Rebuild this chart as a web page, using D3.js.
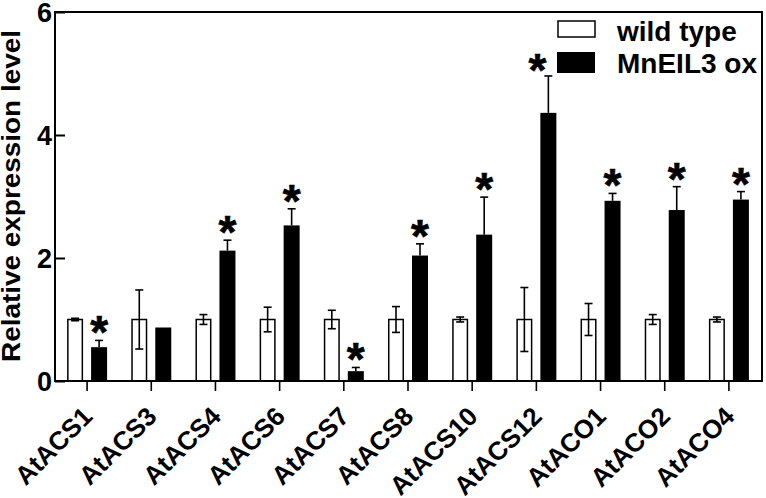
<!DOCTYPE html>
<html><head><meta charset="utf-8">
<script src="https://cdn.jsdelivr.net/npm/d3@7"></script>
<style>html,body{margin:0;padding:0;background:#fff;}svg{display:block;font-family:"Liberation Sans",Arial,Helvetica,sans-serif;font-weight:bold;}</style>
</head><body>
<svg id="chart" width="766" height="498"></svg>
<script>
const categories = ["AtACS1","AtACS3","AtACS4","AtACS6","AtACS7","AtACS8","AtACS10","AtACS12","AtACO1","AtACO2","AtACO4"];
const series = ["wild type","MnEIL3 ox"];
const wildType = [1.0,1.0,1.0,1.0,1.0,1.0,1.0,1.0,1.0,1.0,1.0];
const wildTypeErr = [0.02,0.48,0.08,0.20,0.15,0.21,0.04,0.52,0.26,0.08,0.04];
const overexp = [0.55,0.87,2.12,2.53,0.16,2.04,2.38,4.36,2.93,2.78,2.95];
const overexpErr = [0.11,0,0.17,0.27,0.06,0.19,0.61,0.60,0.12,0.38,0.13];
const significant = [true,false,true,true,true,true,true,true,true,true,true];
const yTicks = [0,2,4,6];

(function () {
const svg = d3.select("#chart");
const mLeft = 55, mRight = 762, mTop = 12, mBottom = 381;

const x = d3.scaleBand().domain(categories).range([mLeft, 761]).padding(0);
const xs = d3.scaleBand().domain(series).range([-20, 20]).paddingInner(1/3);
const y = d3.scaleLinear().domain([0, 6]).range([mBottom, mTop]);

const data = categories.map((c, i) => ({
  cat: c,
  vals: [
    {s: series[0], v: wildType[i], e: wildTypeErr[i]},
    {s: series[1], v: overexp[i], e: overexpErr[i]}
  ],
  sig: significant[i]
}));

const g = svg.append("g");
function cap(mid, yy) {
  g.append("line").attr("x1", mid - 4).attr("x2", mid + 4).attr("y1", yy).attr("y2", yy)
    .attr("stroke", "#000").attr("stroke-width", 1.6);
}
function vline(mid, y1, y2) {
  g.append("line").attr("x1", mid).attr("x2", mid).attr("y1", y1).attr("y2", y2)
    .attr("stroke", "#000").attr("stroke-width", 1.6);
}
data.forEach(d => {
  const cx = x(d.cat) + x.bandwidth() / 2;
  d.vals.forEach((b, j) => {
    const bx = cx + xs(b.s);
    const bw = xs.bandwidth();
    const mid = bx + bw / 2;
    if (j === 1 && b.e > 0) {
      vline(mid, y(b.v + b.e), y(b.v));
      cap(mid, y(b.v + b.e));
    }
    g.append("rect").attr("x", bx + (j === 0 ? 0.75 : 0)).attr("y", y(b.v))
      .attr("width", bw - (j === 0 ? 1.5 : 0)).attr("height", y(0) - y(b.v))
      .attr("fill", j === 0 ? "#fff" : "#000")
      .attr("stroke", "#000").attr("stroke-width", j === 0 ? 1.5 : 0);
    if (j === 0 && b.e > 0) {
      vline(mid, y(b.v + b.e), y(b.v - b.e));
      cap(mid, y(b.v + b.e));
      cap(mid, y(b.v - b.e));
    }
  });
  if (d.sig) {
    const b = d.vals[1];
    let ax = cx + xs(b.s) + xs.bandwidth() / 2;
    let ay = y(b.v + b.e) + 8;
    if (d.cat === "AtACS12") { ax -= 11; ay += 2; }
    g.append("text").attr("x", ax).attr("y", ay).attr("text-anchor", "middle")
      .attr("font-size", 46).attr("stroke", "#000").attr("stroke-width", 0.6).text("*");
  }
});

svg.append("rect").attr("x", mLeft).attr("y", mTop).attr("width", mRight - mLeft).attr("height", mBottom - mTop)
  .attr("fill", "none").attr("stroke", "#000").attr("stroke-width", 2);

const yAxis = svg.append("g").attr("transform", `translate(${mLeft},0)`)
  .call(d3.axisLeft(y).tickValues(yTicks).tickFormat(d3.format("d")).tickSize(-10).tickPadding(4));
yAxis.select(".domain").remove();
yAxis.selectAll(".tick line").attr("stroke", "#000").attr("stroke-width", 2);
yAxis.selectAll(".tick text").attr("font-size", 27).attr("font-weight", "bold").attr("fill", "#000")
  .attr("font-family", "Liberation Sans, Arial, sans-serif").attr("x", -3).attr("dy", "0.36em");

const xAxis = svg.append("g").attr("transform", `translate(0,${mBottom})`)
  .call(d3.axisBottom(x).tickSize(10).tickFormat(""));
xAxis.select(".domain").remove();
xAxis.selectAll(".tick line").attr("stroke", "#000").attr("stroke-width", 1.6);
xAxis.selectAll(".tick").append("text")
  .attr("text-anchor", "end")
  .attr("transform", "translate(7,37) rotate(-45)")
  .attr("font-size", 26).attr("font-weight", "bold").attr("fill", "#000")
  .attr("font-family", "Liberation Sans, Arial, sans-serif")
  .text(d => d);

svg.append("text").attr("transform", "translate(20,196) rotate(-90)")
  .attr("text-anchor", "middle").attr("font-size", 25)
  .attr("textLength", 332).attr("lengthAdjust", "spacingAndGlyphs")
  .text("Relative expression level");

const leg = svg.append("g");
leg.append("rect").attr("x", 558).attr("y", 21).attr("width", 37).attr("height", 16)
  .attr("fill", "#fff").attr("stroke", "#000").attr("stroke-width", 1.5);
leg.append("rect").attr("x", 557).attr("y", 52).attr("width", 38).attr("height", 21)
  .attr("fill", "#000");
leg.append("text").attr("x", 617).attr("y", 41).attr("font-size", 28).text(series[0]);
leg.append("text").attr("x", 617).attr("y", 73).attr("font-size", 28).text(series[1]);
})();
</script>
</body></html>
